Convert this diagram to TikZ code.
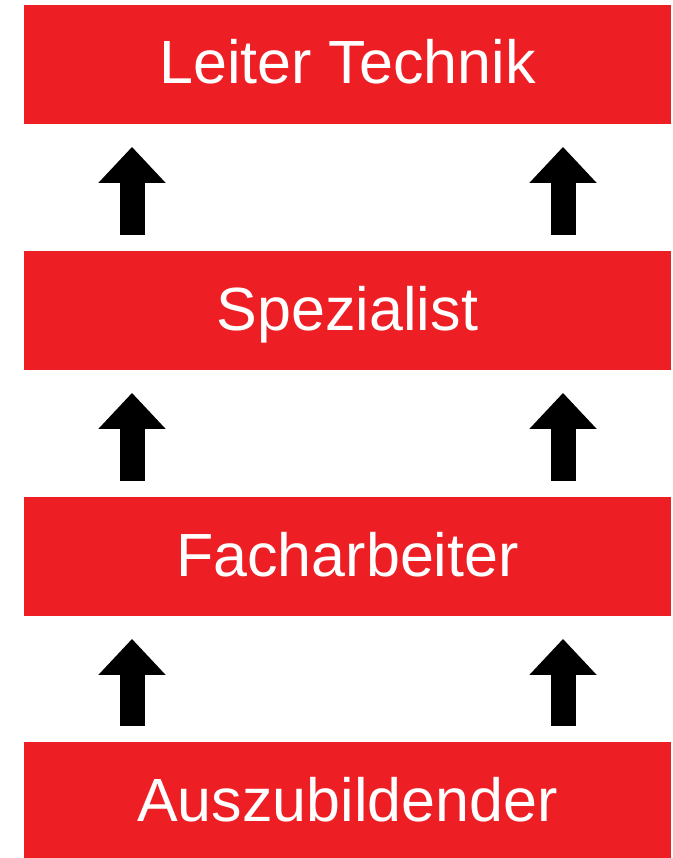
\documentclass[tikz,border=0pt]{standalone}
\usepackage{fontspec}
\setmainfont{Liberation Sans}
\usetikzlibrary{arrows.meta}
\definecolor{stufenrot}{RGB}{237,31,36}
\tikzset{
  stufe/.style={rectangle, fill=stufenrot, text=white, minimum width=647pt,
    minimum height=119pt, inner sep=0pt, text height=45pt, text depth=6pt,
    font=\fontsize{61}{73}\selectfont},
  hebepfeil/.style={line width=25pt, -{Triangle[width=65pt,length=36pt]},
    shorten <=16pt, shorten >=22.7pt}
}
\begin{document}
\begin{tikzpicture}[x=1pt,y=-1pt]
\useasboundingbox (0,0) rectangle (672,858);
%%% The four steps of the career ladder
\node[stufe] (leiter) at (347.5, 64.5) {Leiter Technik};
\node[stufe] (spez) at (347.5, 310.5) {Spezialist};
\node[stufe] (fach) at (347.5, 556.5) {Facharbeiter};
\node[stufe] (azubi) at (347.5, 801.5) {Auszubildender};
%%% The arrows between the steps, left and right
\draw[hebepfeil] ([xshift=-215.5pt]azubi.north) -- ([xshift=-215.5pt]fach.south);
\draw[hebepfeil] ([xshift=215.5pt]azubi.north) -- ([xshift=215.5pt]fach.south);
\draw[hebepfeil] ([xshift=-215.5pt]fach.north) -- ([xshift=-215.5pt]spez.south);
\draw[hebepfeil] ([xshift=215.5pt]fach.north) -- ([xshift=215.5pt]spez.south);
\draw[hebepfeil] ([xshift=-215.5pt]spez.north) -- ([xshift=-215.5pt]leiter.south);
\draw[hebepfeil] ([xshift=215.5pt]spez.north) -- ([xshift=215.5pt]leiter.south);
\end{tikzpicture}
\end{document}
